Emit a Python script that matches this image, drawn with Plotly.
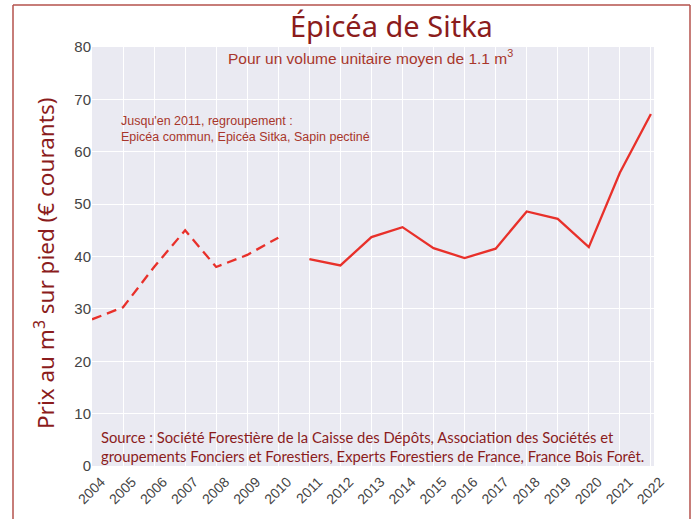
import plotly.graph_objects as go

years_old = [2004, 2005, 2006, 2007, 2008, 2009, 2010]
prices_old = [28.0, 30.3, 38.0, 45.0, 38.0, 40.3, 43.6]
years_new = [2011, 2012, 2013, 2014, 2015, 2016, 2017, 2018, 2019, 2020, 2021, 2022]
prices_new = [39.5, 38.3, 43.7, 45.6, 41.6, 39.7, 41.5, 48.6, 47.2, 41.8, 56.0, 67.2]
tick_years = list(range(2004, 2023))
y_ticks = [0, 10, 20, 30, 40, 50, 60, 70, 80]

RED = "#e8302a"
DARK = "#8b1c1c"
W, H = 699, 519
L, R, T, B = 92, 45, 47, 53
pw, ph = W - L - R, H - T - B

def px(x):
    return (x - L) / pw

def py(y):
    return (H - B - y) / ph

fig = go.Figure()
fig.add_trace(go.Scatter(x=years_old, y=prices_old, mode="lines",
                         line=dict(color=RED, width=2.3, dash="10px,6px"), showlegend=False))
fig.add_trace(go.Scatter(x=years_new, y=prices_new, mode="lines",
                         line=dict(color=RED, width=2.3), showlegend=False))

fig.update_layout(
    width=W, height=H,
    margin=dict(l=L, r=R, t=T, b=B),
    paper_bgcolor="white",
    plot_bgcolor="#eaeaf2",
    showlegend=False,
    xaxis=dict(range=[2004, 2022.1], tickvals=tick_years, ticktext=[str(v) for v in tick_years],
               tickangle=-45, showgrid=True, gridcolor="white", gridwidth=1.2, zeroline=False,
               tickfont=dict(family="Liberation Sans, Arial", size=14, color="#444444"),
               ticks="", showline=False, automargin=False, ticklabelshift=9, ticklabelstandoff=4),
    yaxis=dict(range=[0, 80], tickvals=y_ticks, showgrid=True, gridcolor="white", gridwidth=1.2,
               zeroline=False, ticks="", showline=False, automargin=False,
               tickfont=dict(family="Liberation Sans, Arial", size=15, color="#444444")),
)

annos = [
    dict(text="Épicéa de Sitka", x=px(392), y=py(25), font=dict(family="Noto Sans", size=29, color=DARK)),
    dict(text="Pour un volume unitaire moyen de 1.1 m<sup>3</sup>", x=px(370), y=py(57),
         font=dict(family="Liberation Sans, Arial", size=15.5, color="#a8362b")),
    dict(text="Jusqu'en 2011, regroupement :<br>Epicéa commun, Epicéa Sitka, Sapin pectiné",
         x=px(119), y=py(129), xanchor="left", align="left",
         font=dict(family="Liberation Sans, Arial", size=12.5, color="#a8362b")),
    dict(text="Source : Société Forestière de la Caisse des Dépôts, Association des Sociétés et<br>"
              "groupements Fonciers et Forestiers, Experts Forestiers de France, France Bois Forêt.",
         x=px(99), y=py(446), xanchor="left", align="left",
         font=dict(family="Lato", size=14.8, color=DARK)),
    dict(text="Prix au m<sup>3</sup> sur pied (€ courants)", x=px(44), y=py(264), textangle=-90,
         font=dict(family="Noto Sans", size=22.5, color=DARK)),
]
for a in annos:
    a.setdefault("xanchor", "center")
    fig.add_annotation(xref="paper", yref="paper", showarrow=False, yanchor="middle", **a)

border = "#b5524c"
for (x0, y0, x1, y1) in [(13, 5, 690, 5), (13, 5, 13, 530), (690, 5, 690, 530)]:
    fig.add_shape(type="line", xref="paper", yref="paper",
                  x0=px(x0), y0=py(y0), x1=px(x1), y1=py(y1),
                  line=dict(color=border, width=1.5))

fig.write_html("out.html", config={"displayModeBar": False},
               post_script="document.body.style.margin='0';document.body.style.overflow='hidden';")
